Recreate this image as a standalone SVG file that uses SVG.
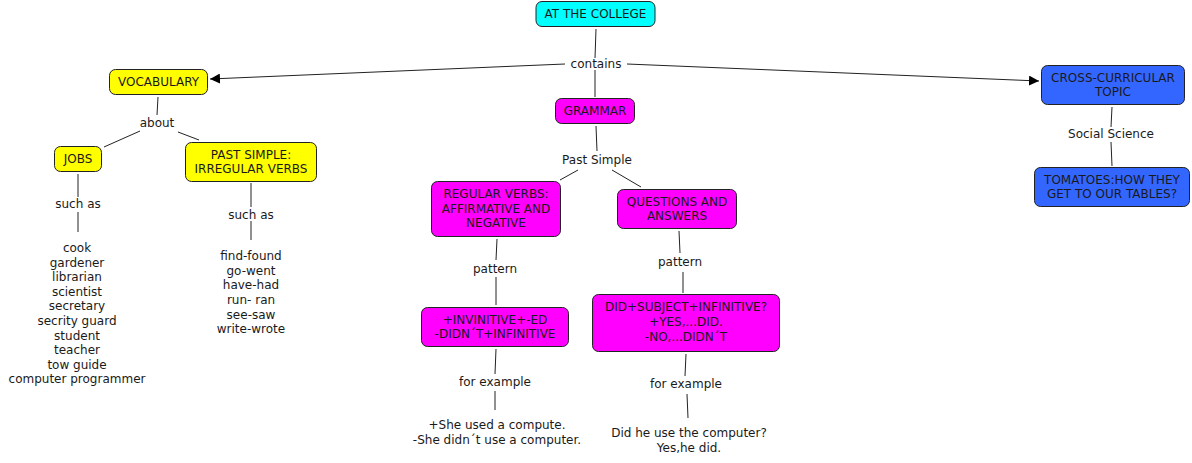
<svg xmlns="http://www.w3.org/2000/svg" width="1192" height="463" viewBox="0 0 1192 463">
<style>
text{font-family:"DejaVu Sans",Verdana,sans-serif;font-size:12px;fill:#1a1a1a;text-anchor:middle}
.n{stroke:#222;stroke-width:1;}
.c{fill:#00FFFF}.y{fill:#FFFF00}.m{fill:#FF00FF}.b{fill:#3366FF}
.l{stroke:#222;stroke-width:1;fill:none}
</style>
<defs>
<marker id="ah" viewBox="0 0 10 10" refX="10" refY="5" markerWidth="10" markerHeight="10" markerUnits="userSpaceOnUse" orient="auto"><path d="M0,0L10,5L0,10z" fill="#000"/></marker>
</defs>
<rect width="1192" height="463" fill="#fff"/>
<g id="connectors">
<line class="l" x1="596" y1="29" x2="595" y2="58"/>
<line class="l" x1="565" y1="64" x2="210" y2="79" marker-end="url(#ah)"/>
<line class="l" x1="627" y1="64" x2="1039" y2="81" marker-end="url(#ah)"/>
<line class="l" x1="595" y1="70" x2="595" y2="97"/>
<line class="l" x1="1112" y1="107" x2="1111" y2="127"/>
<line class="l" x1="1111" y1="142" x2="1112" y2="166"/>
<line class="l" x1="158" y1="97" x2="157" y2="115"/>
<line class="l" x1="140" y1="131" x2="104" y2="147"/>
<line class="l" x1="178" y1="132" x2="199" y2="140"/>
<line class="l" x1="78" y1="174" x2="78" y2="197"/>
<line class="l" x1="78" y1="212" x2="78" y2="232"/>
<line class="l" x1="251" y1="183" x2="251" y2="207"/>
<line class="l" x1="251" y1="221" x2="251" y2="240"/>
<line class="l" x1="596" y1="126" x2="597" y2="151"/>
<line class="l" x1="578" y1="170" x2="560" y2="180"/>
<line class="l" x1="612" y1="170" x2="641" y2="187"/>
<line class="l" x1="497" y1="239" x2="496" y2="260"/>
<line class="l" x1="496" y1="277" x2="496" y2="305"/>
<line class="l" x1="679" y1="231" x2="680" y2="253"/>
<line class="l" x1="683" y1="272" x2="683" y2="293"/>
<line class="l" x1="496" y1="349" x2="495" y2="374"/>
<line class="l" x1="495" y1="391" x2="495" y2="410"/>
<line class="l" x1="686" y1="354" x2="685" y2="376"/>
<line class="l" x1="687" y1="394" x2="688" y2="418"/>
</g>
<g id="lbl-contains"><text x="596" y="68">contains</text></g>
<g id="lbl-about"><text x="157" y="127">about</text></g>
<g id="lbl-such1"><text x="78" y="208">such as</text></g>
<g id="lbl-such2"><text x="251" y="219">such as</text></g>
<g id="lbl-past"><text x="597" y="164">Past Simple</text></g>
<g id="lbl-pattern1"><text x="495" y="273">pattern</text></g>
<g id="lbl-pattern2"><text x="680" y="266">pattern</text></g>
<g id="lbl-ex1"><text x="495" y="386">for example</text></g>
<g id="lbl-ex2"><text x="686" y="388">for example</text></g>
<g id="lbl-social"><text x="1111" y="138">Social Science</text></g>
<g id="n-college"><rect class="n c" x="536" y="1.5" width="119" height="25" rx="6"/><text x="595.5" y="18">AT THE COLLEGE</text></g>
<g id="n-vocab"><rect class="n y" x="109.5" y="69.5" width="98" height="25" rx="6"/><text x="158.5" y="86">VOCABULARY</text></g>
<g id="n-grammar"><rect class="n m" x="555.5" y="98.5" width="79" height="25" rx="6"/><text x="595" y="115">GRAMMAR</text></g>
<g id="n-cross"><rect class="n b" x="1041.5" y="65.5" width="143" height="39" rx="6"/><text x="1113" y="82">CROSS-CURRICULAR</text><text x="1113" y="96">TOPIC</text></g>
<g id="n-tomatoes"><rect class="n b" x="1034.5" y="167.5" width="155" height="39" rx="6"/><text x="1112" y="184">TOMATOES:HOW THEY</text><text x="1112" y="198">GET TO OUR TABLES?</text></g>
<g id="n-jobs"><rect class="n y" x="54.5" y="146.5" width="47" height="25" rx="6"/><text x="78" y="163">JOBS</text></g>
<g id="n-irregular"><rect class="n y" x="185.5" y="142.5" width="131" height="39" rx="6"/><text x="251" y="159">PAST SIMPLE:</text><text x="251" y="173">IRREGULAR VERBS</text></g>
<g id="n-jobslist"><text x="77" y="252">cook</text><text x="77" y="266.5">gardener</text><text x="77" y="281">librarian</text><text x="77" y="295.5">scientist</text><text x="77" y="310">secretary</text><text x="77" y="325">secrity guard</text><text x="77" y="339.5">student</text><text x="77" y="354">teacher</text><text x="77" y="368.5">tow guide</text><text x="77" y="383">computer programmer</text></g>
<g id="n-verbslist"><text x="251" y="260">find-found</text><text x="251" y="274.5">go-went</text><text x="251" y="289">have-had</text><text x="251" y="304">run- ran</text><text x="251" y="318.5">see-saw</text><text x="251" y="333">write-wrote</text></g>
<g id="n-regular"><rect class="n m" x="431.5" y="181.5" width="129" height="55" rx="6"/><text x="496" y="198">REGULAR VERBS:</text><text x="496" y="212.5">AFFIRMATIVE AND</text><text x="496" y="227">NEGATIVE</text></g>
<g id="n-questions"><rect class="n m" x="617.5" y="189.5" width="119" height="39" rx="6"/><text x="677" y="206">QUESTIONS AND</text><text x="677" y="220">ANSWERS</text></g>
<g id="n-invinitive"><rect class="n m" x="421.5" y="307.5" width="147" height="39" rx="6"/><text x="495" y="324">+INVINITIVE+-ED</text><text x="495" y="338">-DIDN´T+INFINITIVE</text></g>
<g id="n-did"><rect class="n m" x="592.5" y="294.5" width="187" height="57" rx="6"/><text x="686" y="311">DID+SUBJECT+INFINITIVE?</text><text x="686" y="326">+YES,...DID.</text><text x="686" y="340.5">-NO,...DIDN´T</text></g>
<g id="n-ex1"><text x="497" y="429">+She used a compute.</text><text x="497" y="444">-She didn´t use a computer.</text></g>
<g id="n-ex2"><text x="689" y="437">Did he use the computer?</text><text x="689" y="451.5">Yes,he did.</text></g>
</svg>
